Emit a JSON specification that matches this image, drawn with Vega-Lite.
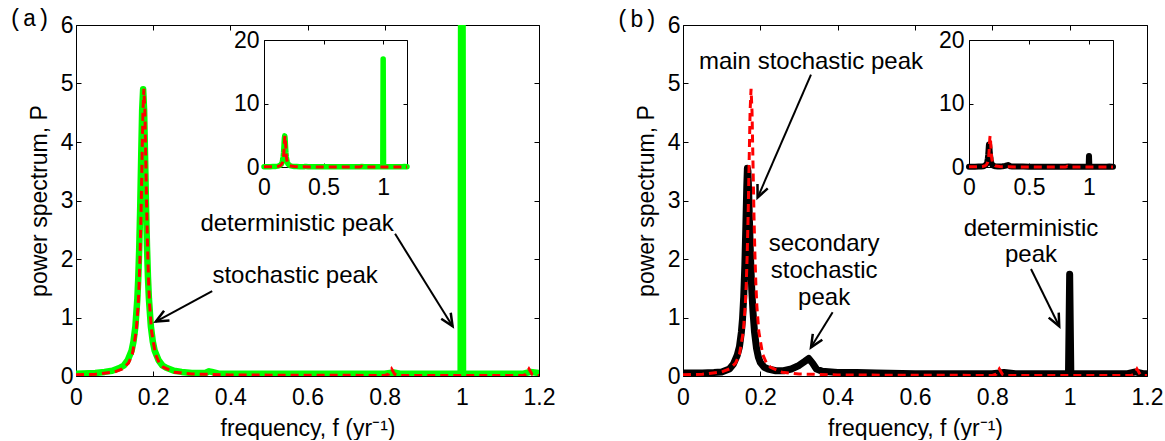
{
"$schema": "https://vega.github.io/schema/vega-lite/v6.json",
"padding": {"left": 8, "top": 8, "right": 3, "bottom": 0},
"background": "white",
"config": {
  "view": {"stroke": null},
  "font": "Liberation Sans",
  "axis": {"labelFont": "Liberation Sans", "titleFont": "Liberation Sans", "labelFontSize": 23, "titleFontSize": 23, "titleFontWeight": "normal", "labelColor": "black", "titleColor": "black", "domainColor": "black", "tickColor": "black", "grid": false, "labelFlush": false, "labelOverlap": false, "format": "~g", "tickSize": -5, "domainWidth": 1, "tickWidth": 1}
},
"bounds": "flush",
"spacing": 144,
"datasets": {
  "theory": [
    {"f":0,"P":0.02},{"f":0.05,"P":0.03},{"f":0.1,"P":0.07},{"f":0.12,"P":0.12},{"f":0.136,"P":0.22},{"f":0.146,"P":0.37},{"f":0.156,"P":0.76},{"f":0.161,"P":1.2},{"f":0.1635,"P":1.56},{"f":0.166,"P":2.07},{"f":0.1685,"P":2.76},{"f":0.171,"P":3.65},{"f":0.1735,"P":4.52},{"f":0.176,"P":4.91},{"f":0.1785,"P":4.52},{"f":0.181,"P":3.65},{"f":0.1835,"P":2.76},{"f":0.186,"P":2.07},{"f":0.1885,"P":1.56},{"f":0.191,"P":1.2},{"f":0.196,"P":0.76},{"f":0.206,"P":0.37},{"f":0.216,"P":0.22},{"f":0.226,"P":0.15},{"f":0.256,"P":0.065},{"f":0.3,"P":0.035},{"f":0.4,"P":0.018},{"f":0.6,"P":0.012},{"f":0.8,"P":0.01},{"f":0.81,"P":0.03},{"f":0.818,"P":0.12},{"f":0.826,"P":0.03},{"f":0.835,"P":0.01},{"f":1.16,"P":0.01},{"f":1.166,"P":0.03},{"f":1.174,"P":0.12},{"f":1.182,"P":0.03},{"f":1.19,"P":0.01},{"f":1.2,"P":0.01}
  ],
  "simA": [
    {"f":0,"P":0.04},{"f":0.05,"P":0.05},{"f":0.074,"P":0.07},{"f":0.094,"P":0.09},{"f":0.114,"P":0.14},{"f":0.124,"P":0.18},{"f":0.134,"P":0.27},{"f":0.144,"P":0.43},{"f":0.149,"P":0.59},{"f":0.154,"P":0.85},{"f":0.159,"P":1.32},{"f":0.1615,"P":1.69},{"f":0.164,"P":2.21},{"f":0.1665,"P":2.9},{"f":0.169,"P":3.75},{"f":0.1715,"P":4.55},{"f":0.174,"P":4.9},{"f":0.1765,"P":4.55},{"f":0.179,"P":3.75},{"f":0.1815,"P":2.9},{"f":0.184,"P":2.21},{"f":0.1865,"P":1.69},{"f":0.189,"P":1.32},{"f":0.194,"P":0.85},{"f":0.199,"P":0.59},{"f":0.204,"P":0.43},{"f":0.214,"P":0.27},{"f":0.224,"P":0.18},{"f":0.234,"P":0.14},{"f":0.254,"P":0.09},{"f":0.274,"P":0.07},{"f":0.3,"P":0.05},{"f":0.335,"P":0.05},{"f":0.345,"P":0.08},{"f":0.352,"P":0.07},{"f":0.37,"P":0.04},{"f":0.5,"P":0.04},{"f":0.6,"P":0.04},{"f":0.8,"P":0.04},{"f":0.823,"P":0.06},{"f":0.84,"P":0.04},{"f":0.997,"P":0.04},{"f":1.0,"P":17},{"f":1.003,"P":0.04},{"f":1.16,"P":0.04},{"f":1.178,"P":0.07},{"f":1.2,"P":0.05}
  ],
  "simB": [
    {"f":0,"P":0.05},{"f":0.05,"P":0.05},{"f":0.08,"P":0.06},{"f":0.1,"P":0.07},{"f":0.12,"P":0.12},{"f":0.13,"P":0.2},{"f":0.14,"P":0.35},{"f":0.146,"P":0.5},{"f":0.151,"P":0.75},{"f":0.154,"P":0.98},{"f":0.157,"P":1.35},{"f":0.16,"P":1.9},{"f":0.1625,"P":2.55},{"f":0.165,"P":3.25},{"f":0.1665,"P":3.55},{"f":0.168,"P":3.5},{"f":0.17,"P":3.1},{"f":0.1725,"P":2.5},{"f":0.175,"P":1.95},{"f":0.178,"P":1.45},{"f":0.181,"P":1.1},{"f":0.185,"P":0.75},{"f":0.19,"P":0.48},{"f":0.195,"P":0.32},{"f":0.2,"P":0.23},{"f":0.21,"P":0.15},{"f":0.22,"P":0.12},{"f":0.24,"P":0.09},{"f":0.26,"P":0.09},{"f":0.28,"P":0.12},{"f":0.3,"P":0.18},{"f":0.315,"P":0.25},{"f":0.325,"P":0.3},{"f":0.335,"P":0.22},{"f":0.345,"P":0.12},{"f":0.36,"P":0.08},{"f":0.4,"P":0.06},{"f":0.45,"P":0.06},{"f":0.5,"P":0.05},{"f":0.6,"P":0.04},{"f":0.8,"P":0.04},{"f":0.83,"P":0.06},{"f":0.86,"P":0.04},{"f":0.997,"P":0.04},{"f":1.0,"P":1.74},{"f":1.003,"P":0.04},{"f":1.15,"P":0.04},{"f":1.17,"P":0.07},{"f":1.19,"P":0.04},{"f":1.2,"P":0.04}
  ],
  "annA": [
    {"f":0.573,"P":2.6,"label":"deterministic peak"},
    {"f":0.568,"P":1.71,"label":"stochastic peak"}
  ],
  "arrA": [
    {"f":0.827,"P":2.43,"f2":0.976,"P2":0.85,"angle":58},
    {"f":0.353,"P":1.45,"f2":0.207,"P2":0.93,"angle":151}
  ],
  "labA": [{"f":-0.174,"P":6.1,"label":"(a)"}],
  "annB": [
    {"f":0.331,"P":5.37,"label":"main stochastic peak"},
    {"f":0.365,"P":2.26,"label":"secondary"},
    {"f":0.365,"P":1.8,"label":"stochastic"},
    {"f":0.365,"P":1.34,"label":"peak"},
    {"f":0.9,"P":2.51,"label":"deterministic"},
    {"f":0.9,"P":2.06,"label":"peak"}
  ],
  "arrB": [
    {"f":0.331,"P":5.15,"f2":0.193,"P2":3.05,"angle":113.6},
    {"f":0.387,"P":1.09,"f2":0.331,"P2":0.49,"angle":121.8},
    {"f":0.9,"P":1.83,"f2":0.973,"P2":0.85,"angle":63.7}
  ],
  "labB": [{"f":-0.173,"P":6.08,"label":"(b)"}]
},
"hconcat": [
  {
    "width": 463, "height": 351,
    "layer": [
      {
        "layer": [
          {"data": {"name": "simA"}, "mark": {"type": "line", "color": "#00ff00", "strokeWidth": 6.5, "clip": true, "strokeJoin": "round", "strokeCap": "round"},
           "encoding": {
             "x": {"field": "f", "type": "quantitative", "scale": {"domain": [0, 1.2], "nice": false, "zero": false}, "axis": {"orient": "bottom", "values": [0,0.2,0.4,0.6,0.8,1,1.2], "title": "frequency, f (yr⁻¹)", "labelPadding": 15, "titlePadding": 8}},
             "y": {"field": "P", "type": "quantitative", "scale": {"domain": [0, 6], "nice": false}, "axis": {"orient": "left", "values": [0,1,2,3,4,5,6], "title": "power spectrum, P", "labelPadding": 8, "titlePadding": 9}}
           }},
          {"data": {"name": "theory"}, "mark": {"type": "line", "color": "#ff0000", "strokeWidth": 3, "strokeDash": [8, 5], "clip": true},
           "encoding": {"x": {"field": "f", "type": "quantitative", "axis": null}, "y": {"field": "P", "type": "quantitative", "axis": null}}},
          {"data": {"name": "annA"}, "mark": {"type": "text", "fontSize": 24, "font": "Liberation Sans", "align": "center", "baseline": "middle", "color": "black"},
           "encoding": {
             "x": {"field": "f", "type": "quantitative", "axis": {"orient": "top", "labels": false, "title": null, "values": [0,0.2,0.4,0.6,0.8,1,1.2]}},
             "y": {"field": "P", "type": "quantitative", "axis": {"orient": "right", "labels": false, "title": null, "values": [0,1,2,3,4,5,6]}},
             "text": {"field": "label"}
           }},
          {"data": {"name": "arrA"}, "mark": {"type": "rule", "color": "black", "strokeWidth": 2},
           "encoding": {"x": {"field": "f", "type": "quantitative", "axis": null}, "y": {"field": "P", "type": "quantitative", "axis": null}, "x2": {"field": "f2"}, "y2": {"field": "P2"}}},
          {"data": {"name": "arrA"}, "mark": {"type": "point", "shape": "M-1,-0.45L0,0L-1,0.45", "filled": false, "stroke": "black", "strokeWidth": 2.5, "size": 620, "opacity": 1},
           "encoding": {"x": {"field": "f2", "type": "quantitative", "axis": null}, "y": {"field": "P2", "type": "quantitative", "axis": null}, "angle": {"field": "angle", "type": "quantitative", "scale": null}}},
          {"data": {"name": "labA"}, "mark": {"type": "text", "font": "Liberation Mono", "fontSize": 23, "align": "left", "baseline": "middle", "color": "black"},
           "encoding": {"x": {"field": "f", "type": "quantitative", "axis": null}, "y": {"field": "P", "type": "quantitative", "axis": null}, "text": {"field": "label"}}}
        ],
        "resolve": {"axis": {"x": "independent", "y": "independent"}}
      },
      {
        "layer": [
          {"data": {"name": "simA"}, "mark": {"type": "line", "color": "#00ff00", "strokeWidth": 5.5, "strokeJoin": "round", "strokeCap": "round"},
           "encoding": {
             "x": {"field": "f", "type": "quantitative", "scale": {"domain": [0, 1.2], "range": [188, 331], "nice": false, "zero": false}, "axis": {"orient": "bottom", "offset": -209, "values": [0,0.5,1], "title": null, "tickSize": -4, "labelPadding": 13}},
             "y": {"field": "P", "type": "quantitative", "scale": {"domain": [0, 20], "range": [142, 15], "nice": false}, "axis": {"orient": "left", "offset": -188, "values": [0,10,20], "title": null, "tickSize": -4, "labelPadding": 9}}
           }},
          {"data": {"name": "theory"}, "mark": {"type": "line", "color": "#ff0000", "strokeWidth": 3, "strokeDash": [8, 5]},
           "encoding": {"x": {"field": "f", "type": "quantitative", "axis": null}, "y": {"field": "P", "type": "quantitative", "axis": null}}},
          {"data": {"name": "theory"}, "mark": {"type": "line", "opacity": 0},
           "encoding": {
             "x": {"field": "f", "type": "quantitative", "axis": {"orient": "top", "offset": -15, "values": [0,0.5,1], "labels": false, "title": null, "tickSize": -4}},
             "y": {"field": "P", "type": "quantitative", "axis": {"orient": "right", "offset": -132, "values": [0,10,20], "labels": false, "title": null, "tickSize": -4}}
           }}
        ],
        "resolve": {"axis": {"x": "independent", "y": "independent"}}
      }
    ],
    "resolve": {"scale": {"x": "independent", "y": "independent"}, "axis": {"x": "independent", "y": "independent"}}
  },
  {
    "width": 464, "height": 351,
    "layer": [
      {
        "layer": [
          {"data": {"name": "simB"}, "mark": {"type": "line", "color": "black", "strokeWidth": 7, "clip": true, "strokeJoin": "round", "strokeCap": "round"},
           "encoding": {
             "x": {"field": "f", "type": "quantitative", "scale": {"domain": [0, 1.2], "nice": false, "zero": false}, "axis": {"orient": "bottom", "values": [0,0.2,0.4,0.6,0.8,1,1.2], "title": "frequency, f (yr⁻¹)", "labelPadding": 15, "titlePadding": 8}},
             "y": {"field": "P", "type": "quantitative", "scale": {"domain": [0, 6], "nice": false}, "axis": {"orient": "left", "values": [0,1,2,3,4,5,6], "title": "power spectrum, P", "labelPadding": 8, "titlePadding": 9}}
           }},
          {"data": {"name": "theory"}, "mark": {"type": "line", "color": "#ff0000", "strokeWidth": 3, "strokeDash": [8, 5], "clip": true},
           "encoding": {"x": {"field": "f", "type": "quantitative", "axis": null}, "y": {"field": "P", "type": "quantitative", "axis": null}}},
          {"data": {"name": "annB"}, "mark": {"type": "text", "fontSize": 24, "font": "Liberation Sans", "align": "center", "baseline": "middle", "color": "black"},
           "encoding": {
             "x": {"field": "f", "type": "quantitative", "axis": {"orient": "top", "labels": false, "title": null, "values": [0,0.2,0.4,0.6,0.8,1,1.2]}},
             "y": {"field": "P", "type": "quantitative", "axis": {"orient": "right", "labels": false, "title": null, "values": [0,1,2,3,4,5,6]}},
             "text": {"field": "label"}
           }},
          {"data": {"name": "arrB"}, "mark": {"type": "rule", "color": "black", "strokeWidth": 2},
           "encoding": {"x": {"field": "f", "type": "quantitative", "axis": null}, "y": {"field": "P", "type": "quantitative", "axis": null}, "x2": {"field": "f2"}, "y2": {"field": "P2"}}},
          {"data": {"name": "arrB"}, "mark": {"type": "point", "shape": "M-1,-0.45L0,0L-1,0.45", "filled": false, "stroke": "black", "strokeWidth": 2.5, "size": 620, "opacity": 1},
           "encoding": {"x": {"field": "f2", "type": "quantitative", "axis": null}, "y": {"field": "P2", "type": "quantitative", "axis": null}, "angle": {"field": "angle", "type": "quantitative", "scale": null}}},
          {"data": {"name": "labB"}, "mark": {"type": "text", "font": "Liberation Mono", "fontSize": 23, "align": "left", "baseline": "middle", "color": "black"},
           "encoding": {"x": {"field": "f", "type": "quantitative", "axis": null}, "y": {"field": "P", "type": "quantitative", "axis": null}, "text": {"field": "label"}}}
        ],
        "resolve": {"axis": {"x": "independent", "y": "independent"}}
      },
      {
        "layer": [
          {"data": {"name": "simB"}, "mark": {"type": "line", "color": "black", "strokeWidth": 6, "strokeJoin": "round", "strokeCap": "round"},
           "encoding": {
             "x": {"field": "f", "type": "quantitative", "scale": {"domain": [0, 1.2], "range": [286, 430], "nice": false, "zero": false}, "axis": {"orient": "bottom", "offset": -209, "values": [0,0.5,1], "title": null, "tickSize": -4, "labelPadding": 13}},
             "y": {"field": "P", "type": "quantitative", "scale": {"domain": [0, 20], "range": [142, 15], "nice": false}, "axis": {"orient": "left", "offset": -286, "values": [0,10,20], "title": null, "tickSize": -4, "labelPadding": 9}}
           }},
          {"data": {"name": "theory"}, "mark": {"type": "line", "color": "#ff0000", "strokeWidth": 3, "strokeDash": [8, 5]},
           "encoding": {"x": {"field": "f", "type": "quantitative", "axis": null}, "y": {"field": "P", "type": "quantitative", "axis": null}}},
          {"data": {"name": "theory"}, "mark": {"type": "line", "opacity": 0},
           "encoding": {
             "x": {"field": "f", "type": "quantitative", "axis": {"orient": "top", "offset": -15, "values": [0,0.5,1], "labels": false, "title": null, "tickSize": -4}},
             "y": {"field": "P", "type": "quantitative", "axis": {"orient": "right", "offset": -34, "values": [0,10,20], "labels": false, "title": null, "tickSize": -4}}
           }}
        ],
        "resolve": {"axis": {"x": "independent", "y": "independent"}}
      }
    ],
    "resolve": {"scale": {"x": "independent", "y": "independent"}, "axis": {"x": "independent", "y": "independent"}}
  }
]
}
